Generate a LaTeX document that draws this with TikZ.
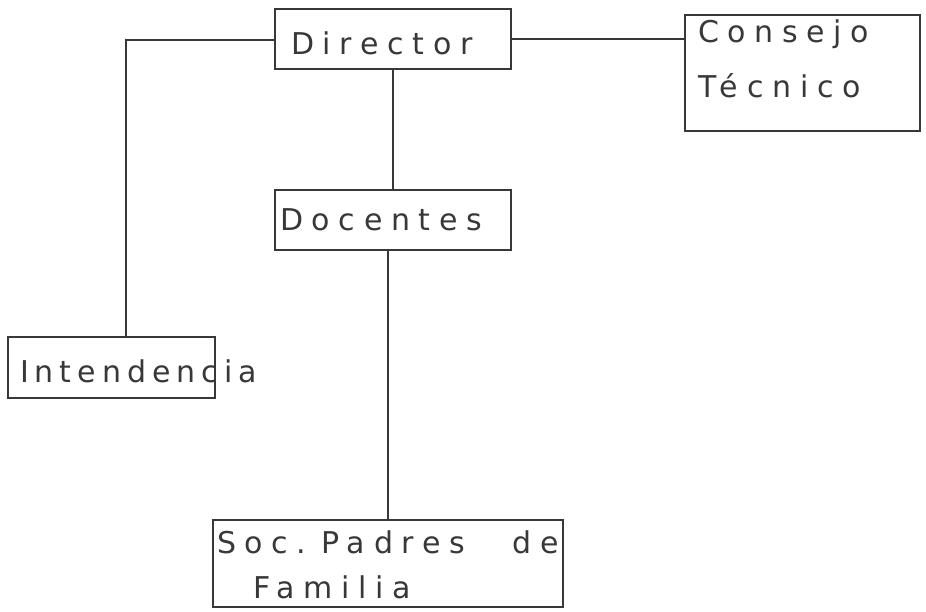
\documentclass[tikz,border=0pt]{standalone}
\usepackage{fontspec}
\setmainfont{DejaVu Sans}[LetterSpace=29]
\newfontfamily\tightfont{DejaVu Sans}[LetterSpace=20]
\definecolor{ink}{HTML}{383838}
\tikzset{
  box/.style={draw=ink, line width=1pt, rectangle, align=left, text=ink,
    inner ysep=0pt, font=\fontsize{15}{22.5}\selectfont},
  link/.style={draw=ink, line width=0.8pt}
}

\begin{document}
\begin{tikzpicture}[x=0.5pt,y=-0.5pt]
      \useasboundingbox (0,0) rectangle (926,611);
      \node[box, inner xsep=8pt, text width=102pt, text height=22.5pt,
           text depth=7.5pt] (dir) at (393,39) {Director};
      \node[box, inner xsep=2.5pt, text width=113pt, text height=20pt,
           text depth=10pt] (doc) at (393,220) {Docentes};
      \node[box, inner xsep=6.5pt, text width=104.5pt, text height=13.5pt,
           text depth=44.5pt, font=\fontsize{15}{27.5}\selectfont]
           (cons) at (802.5,73) {Consejo\\Técnico};
      \node[box, inner xsep=6pt, text width=91.5pt, text height=22.5pt,
           text depth=8pt, font=\tightfont\fontsize{15}{18}\selectfont]
           (int) at (111.5,367.5) {\mbox{Intendencia}};
      \node[box, inner xsep=2pt, text width=171pt, text height=16.5pt,
           text depth=27pt] (soc) at (388,563.5)
           {Soc. Padres\hfill de\\\hspace*{18pt}Familia};
      \coordinate (bend) at (126,40);
      \draw[link] (dir.west |- bend) -- (bend) -- (bend |- int.north);
      \draw[link] (dir.east) -- (dir.east -| cons.west);
      \draw[link] (dir.south) -- (doc.north);
      \draw[link] (soc.north |- doc.south) -- (soc.north);
    \end{tikzpicture}
\end{document}
